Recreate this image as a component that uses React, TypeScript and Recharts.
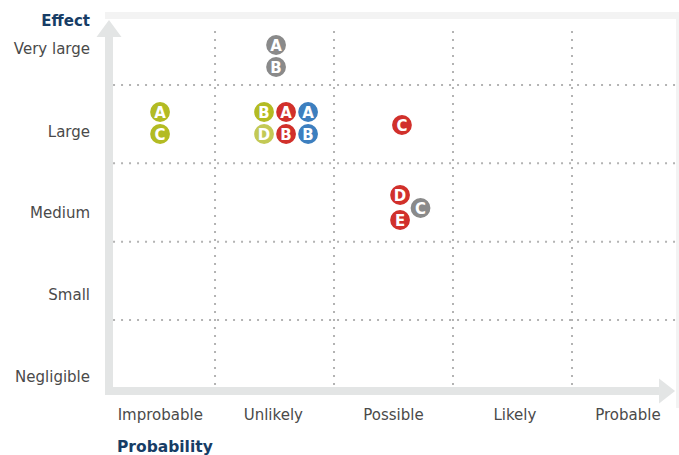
import React from 'react';
import { ScatterChart, Scatter, XAxis, YAxis, ReferenceLine, ReferenceArea } from 'recharts';

// Category tick labels and their positions (in column / row units)
const probabilityLabels = ['Improbable', 'Unlikely', 'Possible', 'Likely', 'Probable'];
const probabilityTicks = [0.54, 1.49, 2.5, 3.52, 4.47];
const effectLabels = ['Negligible', 'Small', 'Medium', 'Large', 'Very large'];
const effectTicks = [0.27, 1.32, 2.37, 3.41, 4.46];

// Grid boundaries between cells
const columnBounds = [1, 2, 3, 4];
const rowBounds = [1, 2, 3, 4];

// Risk markers, grouped by colour
const greenRisks = [
  { x: 0.538, y: 3.656, label: 'A' },
  { x: 0.538, y: 3.375, label: 'C' },
  { x: 1.412, y: 3.656, label: 'B' },
];
const paleGreenRisks = [{ x: 1.412, y: 3.375, label: 'D' }];
const redRisks = [
  { x: 1.597, y: 3.656, label: 'A' },
  { x: 1.597, y: 3.375, label: 'B' },
  { x: 2.571, y: 3.49, label: 'C' },
  { x: 2.555, y: 2.596, label: 'D' },
  { x: 2.555, y: 2.277, label: 'E' },
];
const blueRisks = [
  { x: 1.782, y: 3.656, label: 'A' },
  { x: 1.782, y: 3.375, label: 'B' },
];
const grayRisks = [
  { x: 1.513, y: 4.512, label: 'A' },
  { x: 1.513, y: 4.231, label: 'B' },
  { x: 2.727, y: 2.43, label: 'C' },
];

const X_DOMAIN: [number, number] = [0.109, 4.874];
const Y_DOMAIN: [number, number] = [0.093, 4.831];

const FONT = '"DejaVu Sans", "Open Sans", sans-serif';
const AXIS_GRAY = '#e3e5e5';
const NAVY = '#173d66';
const LABEL = '#4a4a4a';
const DOT = '#b3b3b3';

const makeBubble = (color: string) => (props: any) => {
  const { cx, cy, payload } = props;
  if (cx == null || cy == null) return <g />;
  return (
    <g>
      <circle cx={cx} cy={cy} r={10.6} fill={color} stroke="#ffffff" strokeWidth={1.4} />
      <text
        x={cx}
        y={cy}
        dy="0.37em"
        textAnchor="middle"
        fill="#ffffff"
        fontFamily={FONT}
        fontWeight="bold"
        fontSize={15}
      >
        {payload.label}
      </text>
    </g>
  );
};

const YTick = (props: any) => {
  const { x, y, payload, index } = props;
  return (
    <text x={x} y={y} dy="0.35em" textAnchor="end" fill={LABEL} fontFamily={FONT} fontSize={15}>
      {effectLabels[index] ?? payload.value}
    </text>
  );
};

const XTick = (props: any) => {
  const { x, y, payload, index } = props;
  return (
    <text x={x} y={y} dy="0.35em" textAnchor="middle" fill={LABEL} fontFamily={FONT} fontSize={15}>
      {probabilityLabels[index] ?? payload.value}
    </text>
  );
};

const VerticalArrow = (props: any) => {
  const { x1, y1, y2 } = props;
  const top = Math.min(y1, y2);
  const bottom = Math.max(y1, y2);
  const head = 17;
  return (
    <g>
      <rect x={x1 - 4} y={top + head} width={8} height={bottom - top - head} fill={AXIS_GRAY} />
      <polygon
        points={`${x1 - 12.5},${top + head} ${x1 + 12.5},${top + head} ${x1},${top}`}
        fill={AXIS_GRAY}
      />
    </g>
  );
};

const HorizontalArrow = (props: any) => {
  const { x1, x2, y1 } = props;
  const left = Math.min(x1, x2);
  const right = Math.max(x1, x2);
  const head = 16;
  return (
    <g>
      <rect x={left} y={y1 - 4} width={right - left - head} height={8} fill={AXIS_GRAY} />
      <polygon
        points={`${right - head},${y1 - 12.5} ${right - head},${y1 + 12.5} ${right},${y1}`}
        fill={AXIS_GRAY}
      />
    </g>
  );
};

export default function App() {
  return (
    <div style={{ position: 'absolute', left: 0, top: 0, width: 679, height: 455, background: '#fff' }}>
      <ScatterChart width={679} height={455} margin={{ top: 20, right: 3, bottom: 0, left: 0 }}>
        <XAxis
          type="number"
          dataKey="x"
          domain={X_DOMAIN}
          ticks={probabilityTicks}
          allowDataOverflow
          axisLine={false}
          tickLine={false}
          tickSize={0}
          tickMargin={24}
          height={64}
          interval={0}
          tick={<XTick />}
          label={{
            content: (p: any) => {
              const vb = p.viewBox || { x: 109, y: 391 };
              return (
                <text
                  x={vb.x + 8}
                  y={vb.y + 56}
                  dy="0.35em"
                  fill={NAVY}
                  fontFamily={FONT}
                  fontWeight="bold"
                  fontSize={15.5}
                >
                  Probability
                </text>
              );
            },
          }}
        />
        <YAxis
          type="number"
          dataKey="y"
          domain={Y_DOMAIN}
          ticks={effectTicks}
          allowDataOverflow
          axisLine={false}
          tickLine={false}
          tickSize={0}
          tickMargin={19}
          width={109}
          interval={0}
          tick={<YTick />}
          label={{
            content: (p: any) => {
              const vb = p.viewBox || { x: 0, y: 20, width: 109 };
              return (
                <text
                  x={vb.x + vb.width - 19}
                  y={vb.y + 1}
                  dy="0.35em"
                  textAnchor="end"
                  fill={NAVY}
                  fontFamily={FONT}
                  fontWeight="bold"
                  fontSize={15}
                >
                  Effect
                </text>
              );
            },
          }}
        />

        {/* light frame top and right */}
        <ReferenceArea x1={0.076} x2={4.9} y1={4.844} y2={4.934} fill="#f3f3f3" fillOpacity={1} stroke="none" ifOverflow="visible" />
        <ReferenceArea x1={4.874} x2={4.9} y1={-0.124} y2={4.934} fill="#f3f3f3" fillOpacity={1} stroke="none" ifOverflow="visible" />

        {/* dotted grid */}
        {columnBounds.map((c) => (
          <ReferenceLine
            key={'c' + c}
            segment={[{ x: c, y: 0.17 }, { x: c, y: 4.73 }]}
            stroke={DOT}
            strokeWidth={2}
            strokeDasharray="2 6"
            ifOverflow="visible"
          />
        ))}
        {rowBounds.map((r) => (
          <ReferenceLine
            key={'r' + r}
            segment={[{ x: 0.143, y: r }, { x: 4.874, y: r }]}
            stroke={DOT}
            strokeWidth={2}
            strokeDasharray="2 6"
            ifOverflow="visible"
          />
        ))}

        {/* axis arrows */}
        <ReferenceLine
          segment={[{ x: 0.109, y: 0.042 }, { x: 0.109, y: 4.831 }]}
          ifOverflow="visible"
          shape={(p: any) => <VerticalArrow {...p} />}
        />
        <ReferenceLine
          segment={[{ x: 0.0756, y: 0.093 }, { x: 4.866, y: 0.093 }]}
          ifOverflow="visible"
          shape={(p: any) => <HorizontalArrow {...p} />}
        />

        <Scatter data={redRisks} isAnimationActive={false} shape={makeBubble('#d1302b')} />
        <Scatter data={greenRisks} isAnimationActive={false} shape={makeBubble('#b3bb23')} />
        <Scatter data={paleGreenRisks} isAnimationActive={false} shape={makeBubble('#c3c955')} />
        <Scatter data={blueRisks} isAnimationActive={false} shape={makeBubble('#3d7fbf')} />
        <Scatter data={grayRisks} isAnimationActive={false} shape={makeBubble('#8a8a8a')} />
      </ScatterChart>
    </div>
  );
}
